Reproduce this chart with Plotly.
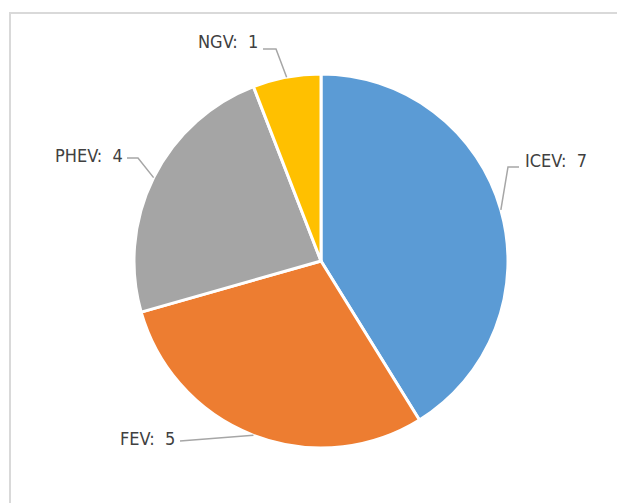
import math
import plotly.graph_objects as go

categories = ["ICEV", "FEV", "PHEV", "NGV"]
values = [7, 5, 4, 1]
colors = ["#5B9BD5", "#ED7D31", "#A5A5A5", "#FFC000"]

W, H = 617, 503
CX, CY, R = 321, 261, 187  # pie centre/radius in pixels (layout)

# label layout (pixels): text anchor, anchor side, elbow point
label_layout = {
    "ICEV": dict(tx=523, ty=160, xanchor="left", p1=(519, 167), elbow=(508, 167)),
    "FEV": dict(tx=177, ty=438, xanchor="right", p1=(180, 441), elbow=None),
    "PHEV": dict(tx=125, ty=156, xanchor="right", p1=(127, 158), elbow=(138, 158)),
    "NGV": dict(tx=260, ty=42, xanchor="right", p1=(263, 49), elbow=(276, 49)),
}

def px(x):
    return x / W

def py(y):
    return 1 - y / H

fig = go.Figure(go.Pie(
    labels=categories, values=values, sort=False, direction="clockwise",
    rotation=0, marker=dict(colors=colors, line=dict(color="white", width=3)),
    textinfo="none", hoverinfo="label+value", showlegend=False,
    domain=dict(x=[px(CX - R), px(CX + R)], y=[py(CY + R), py(CY - R)]),
))

total = sum(values)
cum = 0
shapes = [
    dict(type="line", xref="paper", yref="paper", x0=px(10), x1=px(10), y0=py(13), y1=py(H + 5),
         line=dict(color="#D9D9D9", width=2)),
    dict(type="line", xref="paper", yref="paper", x0=px(9), x1=px(W + 5), y0=py(13), y1=py(13),
         line=dict(color="#D9D9D9", width=2)),
]
annotations = []
for cat, v in zip(categories, values):
    mid = (cum + v / 2) / total * 2 * math.pi
    cum += v
    ex = CX + R * math.sin(mid)
    ey = CY - R * math.cos(mid)
    L = label_layout[cat]
    pts = [L["p1"]]
    if L["elbow"]:
        pts.append(L["elbow"])
    pts.append((ex, ey))
    path = "M " + " L ".join(f"{px(a):.5f},{py(b):.5f}" for a, b in pts)
    shapes.append(dict(type="path", xref="paper", yref="paper", path=path,
                       line=dict(color="#A6A6A6", width=1.5)))
    annotations.append(dict(
        x=px(L["tx"]), y=py(L["ty"]), xref="paper", yref="paper",
        text=f"{cat}:  {v}", showarrow=False, xanchor=L["xanchor"], yanchor="middle",
        font=dict(family="DejaVu Sans Condensed, Liberation Sans Narrow, sans-serif", size=18, color="#404040"),
    ))

fig.update_layout(
    width=W, height=H, margin=dict(l=0, r=0, t=0, b=0),
    paper_bgcolor="white", plot_bgcolor="white",
    shapes=shapes, annotations=annotations,
)

fig.write_html("out.html", config={"displayModeBar": False},
               post_script="document.body.style.margin='0';")
